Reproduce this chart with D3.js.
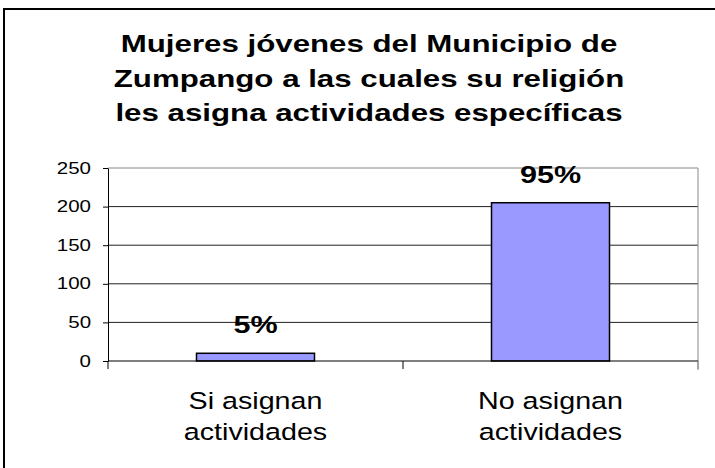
<!DOCTYPE html>
<html>
<head>
<meta charset="utf-8">
<script src="https://cdn.jsdelivr.net/npm/d3@7"></script>
<style>
  body { margin: 0; background: #fff; }
  text { font-family: "Liberation Sans", Arial, sans-serif; fill: #000; }
</style>
</head>
<body>
<svg id="chart"></svg>
<script>
// chart data
var titleLines = [
    "Mujeres jóvenes del Municipio de",
    "Zumpango a las cuales su religión",
    "les asigna actividades específicas"
];
var categories = [
    ["Si asignan", "actividades"],
    ["No asignan", "actividades"]
];
var values = [10, 205];
var pctLabels = ["5%", "95%"];
var yTicks = [0, 50, 100, 150, 200, 250];

var W = 715, H = 468;
var margin = { top: 168, right: 17, bottom: 107, left: 108 };
var boldK = 1.33, regK = 1.22;   // the source text is drawn wide

var svg = d3.select("#chart")
    .attr("width", W)
    .attr("height", H);

svg.append("rect")
    .attr("width", W).attr("height", H)
    .attr("fill", "#fff");

// outer chart frame (cropped at right and bottom)
svg.append("rect")
    .attr("x", 4).attr("y", 9)
    .attr("width", W + 20).attr("height", H + 20)
    .attr("fill", "none")
    .attr("stroke", "#000")
    .attr("stroke-width", 2);

var x = d3.scaleBand()
    .domain(d3.range(categories.length))
    .range([margin.left, W - margin.right])
    .paddingInner(0.6)
    .paddingOuter(0.3);

var y = d3.scaleLinear()
    .domain([0, 250])
    .range([H - margin.bottom, margin.top]);

// stretch a text horizontally around its anchor point
function place(sel, px, py, k) {
    sel.attr("x", 0).attr("y", 0)
        .attr("transform", function (d, i) {
            var xx = typeof px === "function" ? px(d, i) : px;
            var yy = typeof py === "function" ? py(d, i) : py;
            return "translate(" + xx + "," + yy + ") scale(" + k + ",1)";
        });
}

// title
var title = svg.append("g").selectAll("text")
    .data(titleLines)
    .enter().append("text")
    .attr("text-anchor", "middle")
    .attr("font-size", 23.5)
    .attr("font-weight", "bold")
    .text(function (d) { return d; });
place(title, 369, function (d, i) { return 52 + i * 34.5; }, boldK);

// gridlines
svg.append("g")
    .selectAll("line")
    .data(yTicks.filter(function (t) { return t > 0; }))
    .enter().append("line")
    .attr("x1", margin.left)
    .attr("x2", W - margin.right)
    .attr("y1", function (d) { return y(d); })
    .attr("y2", function (d) { return y(d); })
    .attr("stroke", function (d) { return d === 250 ? "#888" : "#222"; })
    .attr("stroke-width", 1);

// right border of plot area
svg.append("line")
    .attr("x1", W - margin.right).attr("x2", W - margin.right)
    .attr("y1", y(250)).attr("y2", y(0) + 9)
    .attr("stroke", "#888");

// bars
svg.append("g")
    .selectAll("rect")
    .data(values)
    .enter().append("rect")
    .attr("x", function (d, i) { return x(i); })
    .attr("width", x.bandwidth())
    .attr("y", function (d) { return y(d); })
    .attr("height", function (d) { return y(0) - y(d); })
    .attr("fill", "#9999FF")
    .attr("stroke", "#000")
    .attr("stroke-width", 1.5);

// data labels
var pct = svg.append("g").selectAll("text")
    .data(values)
    .enter().append("text")
    .attr("text-anchor", "middle")
    .attr("font-size", 23)
    .attr("font-weight", "bold")
    .text(function (d, i) { return pctLabels[i]; });
place(pct, function (d, i) { return x(i) + x.bandwidth() / 2; },
    function (d) { return y(d) - 20; }, boldK);

// y axis
var yAxis = svg.append("g")
    .attr("transform", "translate(" + margin.left + ",0)")
    .call(d3.axisLeft(y).tickValues(yTicks).tickSize(5).tickSizeOuter(0).tickPadding(12));
yAxis.select(".domain").attr("stroke", "#000");
yAxis.selectAll(".tick line").attr("stroke", "#000");
yAxis.selectAll(".tick text")
    .attr("font-size", 16)
    .attr("font-family", "Liberation Sans, Arial, sans-serif")
    .attr("x", -17 / 1.28)
    .attr("transform", "scale(1.28,1)");

// x axis line and category boundary ticks
svg.append("line")
    .attr("x1", margin.left).attr("x2", W - margin.right)
    .attr("y1", y(0)).attr("y2", y(0))
    .attr("stroke", "#000").attr("stroke-width", 1.2);

var bounds = d3.range(categories.length + 1).map(function (i) {
    return margin.left + i * x.step();
});
svg.append("g").selectAll("line")
    .data(bounds)
    .enter().append("line")
    .attr("x1", function (d) { return d; })
    .attr("x2", function (d) { return d; })
    .attr("y1", y(0))
    .attr("y2", y(0) + 8)
    .attr("stroke", function (d, i) { return i === bounds.length - 1 ? "#888" : "#000"; });

// category labels
var cat = svg.append("g").selectAll("g")
    .data(categories)
    .enter().append("g");
cat.each(function (lines, i) {
    var t = d3.select(this).selectAll("text")
        .data(lines)
        .enter().append("text")
        .attr("text-anchor", "middle")
        .attr("font-size", 23.5)
        .text(function (d) { return d; });
    place(t, x(i) + x.bandwidth() / 2, function (d, j) { return 409 + j * 31; }, regK);
});
</script>
</body>
</html>
